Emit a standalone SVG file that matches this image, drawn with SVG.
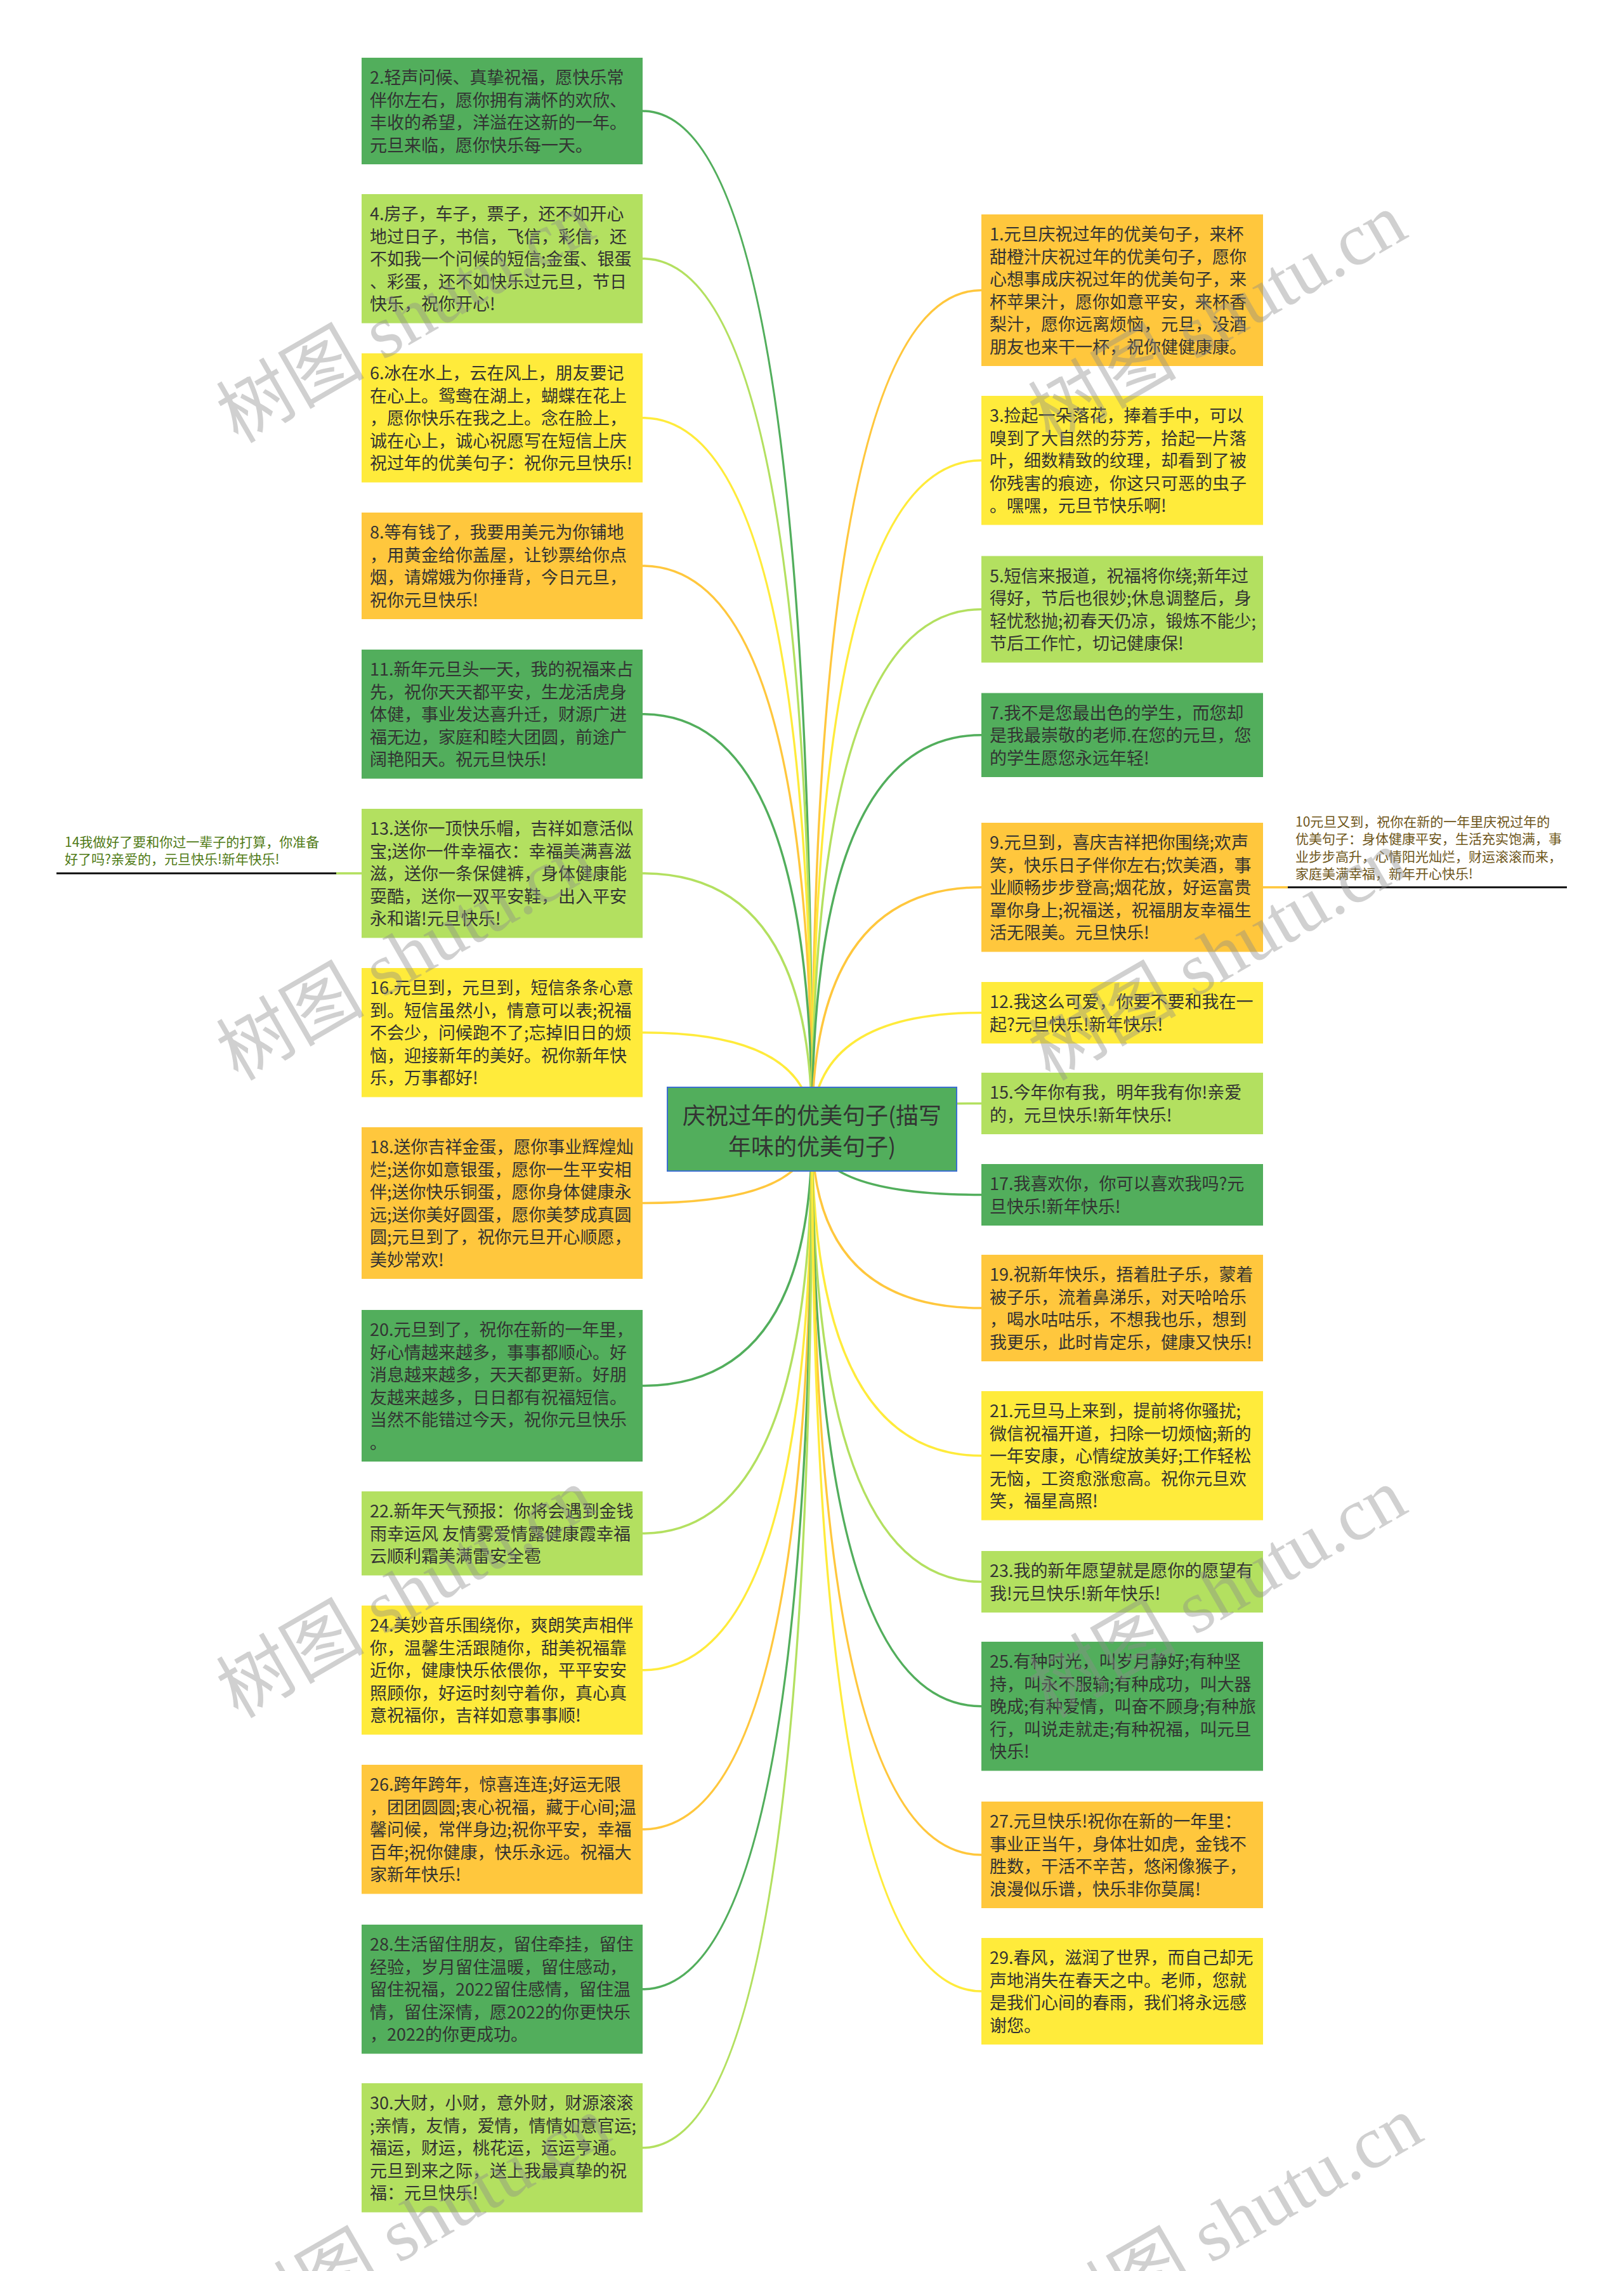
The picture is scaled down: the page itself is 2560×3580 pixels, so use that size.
<svg xmlns="http://www.w3.org/2000/svg" width="2560" height="3580" viewBox="0 0 2560 3580">
<defs>
<style>
.n text{font-family:"Noto Sans CJK SC","Noto Sans",sans-serif;font-size:27px;fill:#333}
.dg{fill:#52ae5c}.lg{fill:#b3e060}.yl{fill:#ffeb3b}.or{fill:#ffc73d}
.e{fill:none;stroke-width:3.5}
.sdg{stroke:#52ae5c}.slg{stroke:#b3e060}.syl{stroke:#ffeb3b}.sor{stroke:#ffc73d}
.sub text{font-family:"Noto Sans CJK SC","Noto Sans",sans-serif;font-size:21px}
.ul{stroke:#111;stroke-width:3}
.wm{font-family:"Liberation Serif","Noto Sans CJK SC",serif;font-size:117px;fill:#8c8c8c;opacity:0.4}
</style>
</defs>
<rect width="2560" height="3580" fill="#ffffff"/>
<g id="connectors">
<path class="e sdg" d="M1280 1780 Q1280 175 1013 175"/>
<path class="e slg" d="M1280 1780 Q1280 407.75 1013 407.75"/>
<path class="e syl" d="M1280 1780 Q1280 658.75 1013 658.75"/>
<path class="e sor" d="M1280 1780 Q1280 892 1013 892"/>
<path class="e sdg" d="M1280 1780 Q1280 1125.75 1013 1125.75"/>
<path class="e slg" d="M1280 1780 Q1280 1376.75 1013 1376.75"/>
<path class="e syl" d="M1280 1780 Q1280 1627.75 1013 1627.75"/>
<path class="e sor" d="M1280 1780 Q1280 1896.5 1013 1896.5"/>
<path class="e sdg" d="M1280 1780 Q1280 2184.5 1013 2184.5"/>
<path class="e slg" d="M1280 1780 Q1280 2417.25 1013 2417.25"/>
<path class="e syl" d="M1280 1780 Q1280 2632.75 1013 2632.75"/>
<path class="e sor" d="M1280 1780 Q1280 2883.75 1013 2883.75"/>
<path class="e sdg" d="M1280 1780 Q1280 3135.75 1013 3135.75"/>
<path class="e slg" d="M1280 1780 Q1280 3385.75 1013 3385.75"/>
<path class="e sor" d="M1280 1780 Q1280 457.5 1547 457.5"/>
<path class="e syl" d="M1280 1780 Q1280 725.75 1547 725.75"/>
<path class="e slg" d="M1280 1780 Q1280 960.5 1547 960.5"/>
<path class="e sdg" d="M1280 1780 Q1280 1158.75 1547 1158.75"/>
<path class="e sor" d="M1280 1780 Q1280 1398.75 1547 1398.75"/>
<path class="e syl" d="M1280 1780 Q1280 1596.5 1547 1596.5"/>
<path class="e slg" d="M1280 1780 Q1280 1739.5 1547 1739.5"/>
<path class="e sdg" d="M1280 1780 Q1280 1883.5 1547 1883.5"/>
<path class="e sor" d="M1280 1780 Q1280 2062 1547 2062"/>
<path class="e syl" d="M1280 1780 Q1280 2294.75 1547 2294.75"/>
<path class="e slg" d="M1280 1780 Q1280 2493.5 1547 2493.5"/>
<path class="e sdg" d="M1280 1780 Q1280 2689.75 1547 2689.75"/>
<path class="e sor" d="M1280 1780 Q1280 2924 1547 2924"/>
<path class="e syl" d="M1280 1780 Q1280 3139 1547 3139"/>
<path class="e sor" d="M1991 1398.75 L2030 1398.75"/>
<path class="e slg" d="M570 1376.75 L530 1376.75"/>
</g>
<g id="n2" class="n"><rect class="dg" x="570" y="91" width="443" height="168"/><text x="583" y="132"><tspan x="583">2.轻声问候、真挚祝福，愿快乐常</tspan><tspan x="583" dy="35.5">伴你左右，愿你拥有满怀的欢欣、</tspan><tspan x="583" dy="35.5">丰收的希望，洋溢在这新的一年。</tspan><tspan x="583" dy="35.5">元旦来临，愿你快乐每一天。</tspan></text></g>
<g id="n4" class="n"><rect class="lg" x="570" y="306" width="443" height="203.5"/><text x="583" y="347"><tspan x="583">4.房子，车子，票子，还不如开心</tspan><tspan x="583" dy="35.5">地过日子，书信，飞信，彩信，还</tspan><tspan x="583" dy="35.5">不如我一个问候的短信;金蛋、银蛋</tspan><tspan x="583" dy="35.5">、彩蛋，还不如快乐过元旦，节日</tspan><tspan x="583" dy="35.5">快乐，祝你开心!</tspan></text></g>
<g id="n6" class="n"><rect class="yl" x="570" y="557" width="443" height="203.5"/><text x="583" y="598"><tspan x="583">6.冰在水上，云在风上，朋友要记</tspan><tspan x="583" dy="35.5">在心上。鸳鸯在湖上，蝴蝶在花上</tspan><tspan x="583" dy="35.5">，愿你快乐在我之上。念在脸上，</tspan><tspan x="583" dy="35.5">诚在心上，诚心祝愿写在短信上庆</tspan><tspan x="583" dy="35.5">祝过年的优美句子：祝你元旦快乐!</tspan></text></g>
<g id="n8" class="n"><rect class="or" x="570" y="808" width="443" height="168"/><text x="583" y="849"><tspan x="583">8.等有钱了，我要用美元为你铺地</tspan><tspan x="583" dy="35.5">，用黄金给你盖屋，让钞票给你点</tspan><tspan x="583" dy="35.5">烟，请嫦娥为你捶背，今日元旦，</tspan><tspan x="583" dy="35.5">祝你元旦快乐!</tspan></text></g>
<g id="n11" class="n"><rect class="dg" x="570" y="1024" width="443" height="203.5"/><text x="583" y="1065"><tspan x="583">11.新年元旦头一天，我的祝福来占</tspan><tspan x="583" dy="35.5">先，祝你天天都平安，生龙活虎身</tspan><tspan x="583" dy="35.5">体健，事业发达喜升迁，财源广进</tspan><tspan x="583" dy="35.5">福无边，家庭和睦大团圆，前途广</tspan><tspan x="583" dy="35.5">阔艳阳天。祝元旦快乐!</tspan></text></g>
<g id="n13" class="n"><rect class="lg" x="570" y="1275" width="443" height="203.5"/><text x="583" y="1316"><tspan x="583">13.送你一顶快乐帽，吉祥如意活似</tspan><tspan x="583" dy="35.5">宝;送你一件幸福衣：幸福美满喜滋</tspan><tspan x="583" dy="35.5">滋，送你一条保健裤，身体健康能</tspan><tspan x="583" dy="35.5">耍酷，送你一双平安鞋，出入平安</tspan><tspan x="583" dy="35.5">永和谐!元旦快乐!</tspan></text></g>
<g id="n16" class="n"><rect class="yl" x="570" y="1526" width="443" height="203.5"/><text x="583" y="1567"><tspan x="583">16.元旦到，元旦到，短信条条心意</tspan><tspan x="583" dy="35.5">到。短信虽然小，情意可以表;祝福</tspan><tspan x="583" dy="35.5">不会少，问候跑不了;忘掉旧日的烦</tspan><tspan x="583" dy="35.5">恼，迎接新年的美好。祝你新年快</tspan><tspan x="583" dy="35.5">乐，万事都好!</tspan></text></g>
<g id="n18" class="n"><rect class="or" x="570" y="1777" width="443" height="239"/><text x="583" y="1818"><tspan x="583">18.送你吉祥金蛋，愿你事业辉煌灿</tspan><tspan x="583" dy="35.5">烂;送你如意银蛋，愿你一生平安相</tspan><tspan x="583" dy="35.5">伴;送你快乐铜蛋，愿你身体健康永</tspan><tspan x="583" dy="35.5">远;送你美好圆蛋，愿你美梦成真圆</tspan><tspan x="583" dy="35.5">圆;元旦到了，祝你元旦开心顺愿，</tspan><tspan x="583" dy="35.5">美妙常欢!</tspan></text></g>
<g id="n20" class="n"><rect class="dg" x="570" y="2065" width="443" height="239"/><text x="583" y="2106"><tspan x="583">20.元旦到了，祝你在新的一年里，</tspan><tspan x="583" dy="35.5">好心情越来越多，事事都顺心。好</tspan><tspan x="583" dy="35.5">消息越来越多，天天都更新。好朋</tspan><tspan x="583" dy="35.5">友越来越多，日日都有祝福短信。</tspan><tspan x="583" dy="35.5">当然不能错过今天，祝你元旦快乐</tspan><tspan x="583" dy="35.5">。</tspan></text></g>
<g id="n22" class="n"><rect class="lg" x="570" y="2351" width="443" height="132.5"/><text x="583" y="2392"><tspan x="583">22.新年天气预报：你将会遇到金钱</tspan><tspan x="583" dy="35.5">雨幸运风 友情雾爱情露健康霞幸福</tspan><tspan x="583" dy="35.5">云顺利霜美满雷安全雹</tspan></text></g>
<g id="n24" class="n"><rect class="yl" x="570" y="2531" width="443" height="203.5"/><text x="583" y="2572"><tspan x="583">24.美妙音乐围绕你，爽朗笑声相伴</tspan><tspan x="583" dy="35.5">你，温馨生活跟随你，甜美祝福靠</tspan><tspan x="583" dy="35.5">近你，健康快乐依偎你，平平安安</tspan><tspan x="583" dy="35.5">照顾你，好运时刻守着你，真心真</tspan><tspan x="583" dy="35.5">意祝福你，吉祥如意事事顺!</tspan></text></g>
<g id="n26" class="n"><rect class="or" x="570" y="2782" width="443" height="203.5"/><text x="583" y="2823"><tspan x="583">26.跨年跨年，惊喜连连;好运无限</tspan><tspan x="583" dy="35.5">，团团圆圆;衷心祝福，藏于心间;温</tspan><tspan x="583" dy="35.5">馨问候，常伴身边;祝你平安，幸福</tspan><tspan x="583" dy="35.5">百年;祝你健康，快乐永远。祝福大</tspan><tspan x="583" dy="35.5">家新年快乐!</tspan></text></g>
<g id="n28" class="n"><rect class="dg" x="570" y="3034" width="443" height="203.5"/><text x="583" y="3075"><tspan x="583">28.生活留住朋友，留住牵挂，留住</tspan><tspan x="583" dy="35.5">经验，岁月留住温暖，留住感动，</tspan><tspan x="583" dy="35.5">留住祝福，2022留住感情，留住温</tspan><tspan x="583" dy="35.5">情，留住深情，愿2022的你更快乐</tspan><tspan x="583" dy="35.5">，2022的你更成功。</tspan></text></g>
<g id="n30" class="n"><rect class="lg" x="570" y="3284" width="443" height="203.5"/><text x="583" y="3325"><tspan x="583">30.大财，小财，意外财，财源滚滚</tspan><tspan x="583" dy="35.5">;亲情，友情，爱情，情情如意官运;</tspan><tspan x="583" dy="35.5">福运，财运，桃花运，运运亨通。</tspan><tspan x="583" dy="35.5">元旦到来之际，送上我最真挚的祝</tspan><tspan x="583" dy="35.5">福：元旦快乐!</tspan></text></g>
<g id="n1" class="n"><rect class="or" x="1547" y="338" width="444" height="239"/><text x="1560" y="379"><tspan x="1560">1.元旦庆祝过年的优美句子，来杯</tspan><tspan x="1560" dy="35.5">甜橙汁庆祝过年的优美句子，愿你</tspan><tspan x="1560" dy="35.5">心想事成庆祝过年的优美句子，来</tspan><tspan x="1560" dy="35.5">杯苹果汁，愿你如意平安，来杯香</tspan><tspan x="1560" dy="35.5">梨汁，愿你远离烦恼，元旦，没酒</tspan><tspan x="1560" dy="35.5">朋友也来干一杯，祝你健健康康。</tspan></text></g>
<g id="n3" class="n"><rect class="yl" x="1547" y="624" width="444" height="203.5"/><text x="1560" y="665"><tspan x="1560">3.捡起一朵落花，捧着手中，可以</tspan><tspan x="1560" dy="35.5">嗅到了大自然的芬芳，拾起一片落</tspan><tspan x="1560" dy="35.5">叶，细数精致的纹理，却看到了被</tspan><tspan x="1560" dy="35.5">你残害的痕迹，你这只可恶的虫子</tspan><tspan x="1560" dy="35.5">。嘿嘿，元旦节快乐啊!</tspan></text></g>
<g id="n5" class="n"><rect class="lg" x="1547" y="876.5" width="444" height="168"/><text x="1560" y="917.5"><tspan x="1560">5.短信来报道，祝福将你绕;新年过</tspan><tspan x="1560" dy="35.5">得好，节后也很妙;休息调整后，身</tspan><tspan x="1560" dy="35.5">轻忧愁抛;初春天仍凉，锻炼不能少;</tspan><tspan x="1560" dy="35.5">节后工作忙，切记健康保!</tspan></text></g>
<g id="n7" class="n"><rect class="dg" x="1547" y="1092.5" width="444" height="132.5"/><text x="1560" y="1133.5"><tspan x="1560">7.我不是您最出色的学生，而您却</tspan><tspan x="1560" dy="35.5">是我最崇敬的老师.在您的元旦，您</tspan><tspan x="1560" dy="35.5">的学生愿您永远年轻!</tspan></text></g>
<g id="n9" class="n"><rect class="or" x="1547" y="1297" width="444" height="203.5"/><text x="1560" y="1338"><tspan x="1560">9.元旦到，喜庆吉祥把你围绕;欢声</tspan><tspan x="1560" dy="35.5">笑，快乐日子伴你左右;饮美酒，事</tspan><tspan x="1560" dy="35.5">业顺畅步步登高;烟花放，好运富贵</tspan><tspan x="1560" dy="35.5">罩你身上;祝福送，祝福朋友幸福生</tspan><tspan x="1560" dy="35.5">活无限美。元旦快乐!</tspan></text></g>
<g id="n12" class="n"><rect class="yl" x="1547" y="1548" width="444" height="97"/><text x="1560" y="1589"><tspan x="1560">12.我这么可爱，你要不要和我在一</tspan><tspan x="1560" dy="35.5">起?元旦快乐!新年快乐!</tspan></text></g>
<g id="n15" class="n"><rect class="lg" x="1547" y="1691" width="444" height="97"/><text x="1560" y="1732"><tspan x="1560">15.今年你有我，明年我有你!亲爱</tspan><tspan x="1560" dy="35.5">的，元旦快乐!新年快乐!</tspan></text></g>
<g id="n17" class="n"><rect class="dg" x="1547" y="1835" width="444" height="97"/><text x="1560" y="1876"><tspan x="1560">17.我喜欢你，你可以喜欢我吗?元</tspan><tspan x="1560" dy="35.5">旦快乐!新年快乐!</tspan></text></g>
<g id="n19" class="n"><rect class="or" x="1547" y="1978" width="444" height="168"/><text x="1560" y="2019"><tspan x="1560">19.祝新年快乐，捂着肚子乐，蒙着</tspan><tspan x="1560" dy="35.5">被子乐，流着鼻涕乐，对天哈哈乐</tspan><tspan x="1560" dy="35.5">，喝水咕咕乐，不想我也乐，想到</tspan><tspan x="1560" dy="35.5">我更乐，此时肯定乐，健康又快乐!</tspan></text></g>
<g id="n21" class="n"><rect class="yl" x="1547" y="2193" width="444" height="203.5"/><text x="1560" y="2234"><tspan x="1560">21.元旦马上来到，提前将你骚扰;</tspan><tspan x="1560" dy="35.5">微信祝福开道，扫除一切烦恼;新的</tspan><tspan x="1560" dy="35.5">一年安康，心情绽放美好;工作轻松</tspan><tspan x="1560" dy="35.5">无恼，工资愈涨愈高。祝你元旦欢</tspan><tspan x="1560" dy="35.5">笑，福星高照!</tspan></text></g>
<g id="n23" class="n"><rect class="lg" x="1547" y="2445" width="444" height="97"/><text x="1560" y="2486"><tspan x="1560">23.我的新年愿望就是愿你的愿望有</tspan><tspan x="1560" dy="35.5">我!元旦快乐!新年快乐!</tspan></text></g>
<g id="n25" class="n"><rect class="dg" x="1547" y="2588" width="444" height="203.5"/><text x="1560" y="2629"><tspan x="1560">25.有种时光，叫岁月静好;有种坚</tspan><tspan x="1560" dy="35.5">持，叫永不服输;有种成功，叫大器</tspan><tspan x="1560" dy="35.5">晚成;有种爱情，叫奋不顾身;有种旅</tspan><tspan x="1560" dy="35.5">行，叫说走就走;有种祝福，叫元旦</tspan><tspan x="1560" dy="35.5">快乐!</tspan></text></g>
<g id="n27" class="n"><rect class="or" x="1547" y="2840" width="444" height="168"/><text x="1560" y="2881"><tspan x="1560">27.元旦快乐!祝你在新的一年里：</tspan><tspan x="1560" dy="35.5">事业正当午，身体壮如虎，金钱不</tspan><tspan x="1560" dy="35.5">胜数，干活不辛苦，悠闲像猴子，</tspan><tspan x="1560" dy="35.5">浪漫似乐谱，快乐非你莫属!</tspan></text></g>
<g id="n29" class="n"><rect class="yl" x="1547" y="3055" width="444" height="168"/><text x="1560" y="3096"><tspan x="1560">29.春风，滋润了世界，而自己却无</tspan><tspan x="1560" dy="35.5">声地消失在春天之中。老师，您就</tspan><tspan x="1560" dy="35.5">是我们心间的春雨，我们将永远感</tspan><tspan x="1560" dy="35.5">谢您。</tspan></text></g>
<g id="n10" class="sub"><text x="2042" y="1303" fill="#6e561a"><tspan x="2042">10元旦又到，祝你在新的一年里庆祝过年的</tspan><tspan x="2042" dy="27.3">优美句子：身体健康平安，生活充实饱满，事</tspan><tspan x="2042" dy="27.3">业步步高升，心情阳光灿烂，财运滚滚而来，</tspan><tspan x="2042" dy="27.3">家庭美满幸福，新年开心快乐!</tspan></text><line class="ul" x1="2030" y1="1398.75" x2="2470" y2="1398.75"/></g>
<g id="n14" class="sub"><text x="102" y="1335" fill="#4f7a15"><tspan x="102">14我做好了要和你过一辈子的打算，你准备</tspan><tspan x="102" dy="27.3">好了吗?亲爱的，元旦快乐!新年快乐!</tspan></text><line class="ul" x1="89" y1="1376.75" x2="530" y2="1376.75"/></g>
<g id="center" class="n"><rect class="dg" x="1052" y="1714" width="456" height="132" stroke="#3b6fd1" stroke-width="2"/><text x="1280" y="1772" text-anchor="middle" style="font-size:36px"><tspan x="1280">庆祝过年的优美句子(描写</tspan><tspan x="1280" dy="48.5">年味的优美句子)</tspan></text></g>
<g id="watermarks">
<text class="wm" transform="translate(375 700) rotate(-30)">树图 shutu.cn</text>
<text class="wm" transform="translate(375 1705) rotate(-30)">树图 shutu.cn</text>
<text class="wm" transform="translate(375 2710) rotate(-30)">树图 shutu.cn</text>
<text class="wm" transform="translate(400 3700) rotate(-30)">树图 shutu.cn</text>
<text class="wm" transform="translate(1655 700) rotate(-30)">树图 shutu.cn</text>
<text class="wm" transform="translate(1655 1705) rotate(-30)">树图 shutu.cn</text>
<text class="wm" transform="translate(1655 2710) rotate(-30)">树图 shutu.cn</text>
<text class="wm" transform="translate(1680 3700) rotate(-30)">树图 shutu.cn</text>
</g>
</svg>
